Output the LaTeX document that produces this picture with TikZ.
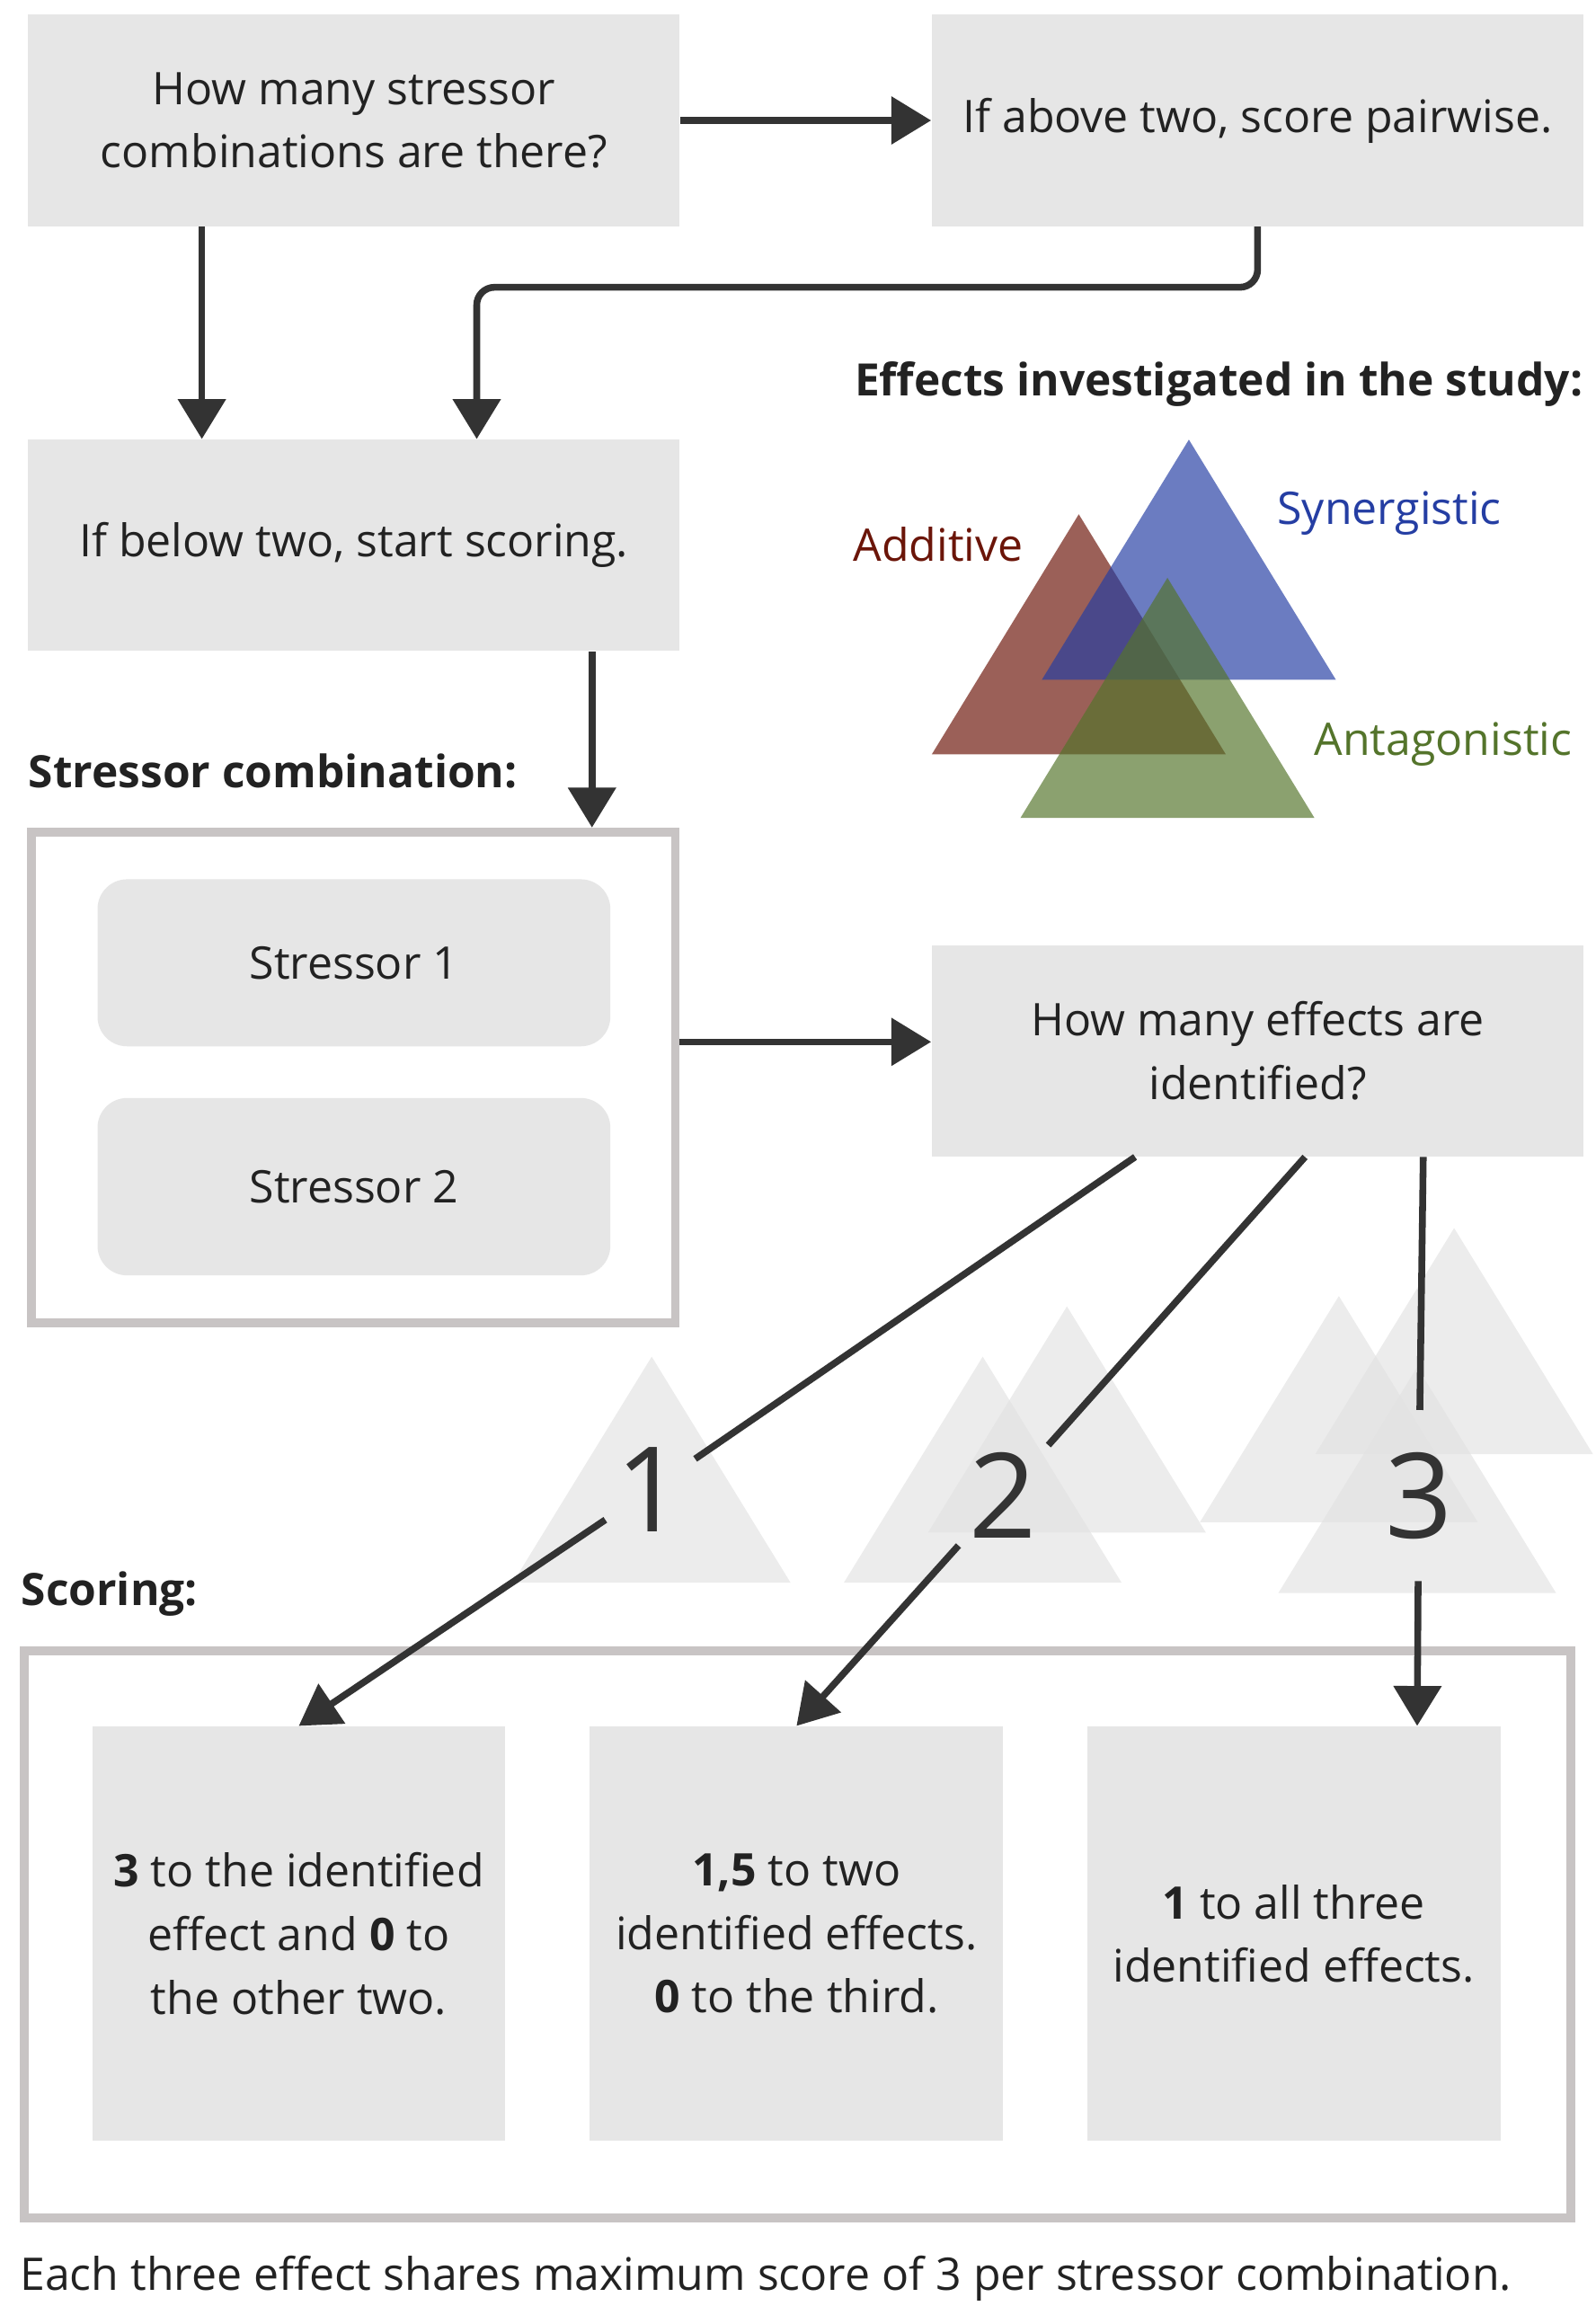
\documentclass[tikz,border=0pt]{standalone}
\usepackage{fontspec}
\setmainfont{Open Sans}
\usepackage{tikz}
\usetikzlibrary{arrows.meta,positioning,calc}
\definecolor{boxgray}{RGB}{230,230,230}
\definecolor{framegray}{RGB}{200,196,196}
\definecolor{linegray}{RGB}{51,51,51}
\definecolor{textdark}{RGB}{34,34,34}
\definecolor{ghostgray}{RGB}{225,225,225}
\definecolor{addred}{RGB}{107,21,9}
\definecolor{synblue}{RGB}{37,62,163}
\definecolor{antgreen}{RGB}{84,116,43}

\tikzset{
  every node/.style={text=textdark, font=\fontsize{15.2pt}{21.5pt}\selectfont},
  stepbox/.style={fill=boxgray, minimum width=220.5pt, minimum height=71.5pt, align=center, inner sep=0pt},
  framebox/.style={draw=framegray, line width=3pt, fill=white},
  stressorbox/.style={fill=boxgray, rounded corners=10pt, minimum width=173.5pt, align=center, inner sep=0pt},
  scorebox/.style={fill=boxgray, minimum width=139.8pt, minimum height=140.25pt, align=center, inner sep=0pt},
  heading/.style={font=\bfseries\fontsize{15.1pt}{21.5pt}\selectfont, inner sep=0pt},
  countnum/.style={font=\fontsize{40pt}{48pt}\selectfont, text=linegray, minimum width=30pt, minimum height=57.5pt, inner sep=0pt},
  link/.style={draw=linegray, line width=2.3pt},
  arr/.style={link, -{Triangle[width=15.8pt,length=13.5pt]}},
  ghost/.style={fill=ghostgray, fill opacity=0.63},
  effect/.style={fill opacity=0.68},
}

\begin{document}
\begin{tikzpicture}[x=0.5pt, y=-0.5pt]
    \useasboundingbox (0,0) rectangle (1080,1566.5);

    % question boxes
    \node[stepbox] (count) at (239.5,81.5) {How many stressor\\combinations are there?};
    \node[stepbox] (pairwise) at (851,81.5) {If above two, score pairwise.};
    \node[stepbox] (below) at (239.5,369) {If below two, start scoring.};

    % effects legend
    \node[heading, anchor=base west] (efftitle) at (578,267.6) {Effects investigated in the study:};
    \fill[addred, effect] (730,348) -- (829.5,510.5) -- (630.5,510.5) -- cycle;
    \fill[synblue, effect] (804.5,297.5) -- (904,460) -- (705,460) -- cycle;
    \fill[antgreen, effect] (790,391) -- (889.5,553.5) -- (690.5,553.5) -- cycle;
    \node[anchor=base west, inner sep=0pt, text=addred] (additive) at (577,380) {Additive};
    \node[anchor=base west, inner sep=0pt, text=synblue] (synergistic) at (864,355) {Synergistic};
    \node[anchor=base west, inner sep=0pt, text=antgreen] (antagonistic) at (889,511) {Antagonistic};

    % stressor combination
    \node[heading, anchor=base west] (stresstitle) at (19,533) {Stressor combination:};
    \node[framebox, minimum width=217.75pt, minimum height=166pt] (combo) at (239.25,729) {};
    \node[stressorbox, minimum height=56.5pt] (stressor1) at (239.5,651.5) {Stressor 1};
    \node[stressorbox, minimum height=60pt] (stressor2) at (239.5,803) {Stressor 2};

    \node[stepbox] (effects) at (851,711) {How many effects are\\identified?};

    % faded triangles behind the counts
    \foreach \tx/\ty in {441/918, 665/918, 722/884, 906/877, 984/831, 959/925}
        \fill[ghost] (\tx,\ty) -- ++(94,153) -- ++(-188,0) -- cycle;

    \node[countnum] (cnt1) at (440,1008) {1};
    \node[countnum] (cnt2) at (679,1012) {2};
    \node[countnum] (cnt3) at (960,1012) {3};

    % scoring
    \node[heading, anchor=base west] (scoretitle) at (14,1086.5) {Scoring:};
    \node[framebox, minimum width=523.1pt, minimum height=192pt] (scoring) at (539.7,1309) {};
    \node[scorebox] (score1) at (202.2,1308.5) {\textbf{3} to the identified\\effect and \textbf{0} to\\the other two.};
    \node[scorebox] (score2) at (539,1308.5) {\textbf{1,5} to two\\identified effects.\\\textbf{0} to the third.};
    \node[scorebox] (score3) at (875.5,1308.5) {\textbf{1} to all three\\identified effects.};

    \node[anchor=base west, inner sep=0pt] (caption) at (13.2,1549.6) {Each three effect shares maximum score of 3 per stressor combination.};

    % connectors
    \draw[arr] (count) -- (pairwise);
    \draw[arr] ([xshift=59pt]count.south west) -- ([xshift=59pt]below.north west);
    \draw[arr, rounded corners=6pt] (pairwise.south) -- ++(0,41) -| ([xshift=152pt]below.north west);
    \draw[arr] ([xshift=191pt]below.south west) -- ([xshift=191pt]below.south west |- combo.north);
    \coordinate (effin) at ([yshift=3pt]effects.west);
    \draw[arr] (combo.east |- effin) -- (effin);

    \draw[link] ([xshift=69pt]effects.south west) -- (cnt1);
    \draw[arr] (cnt1) -- (score1.north);
    \draw[link] ([xshift=126.5pt]effects.south west) -- (cnt2);
    \draw[arr] (cnt2) -- (score2.north);
    \draw[link] ([xshift=166.5pt]effects.south west) -- (cnt3);
    \draw[arr] (cnt3) -- ([xshift=41.75pt]score3.north);
\end{tikzpicture}
\end{document}
